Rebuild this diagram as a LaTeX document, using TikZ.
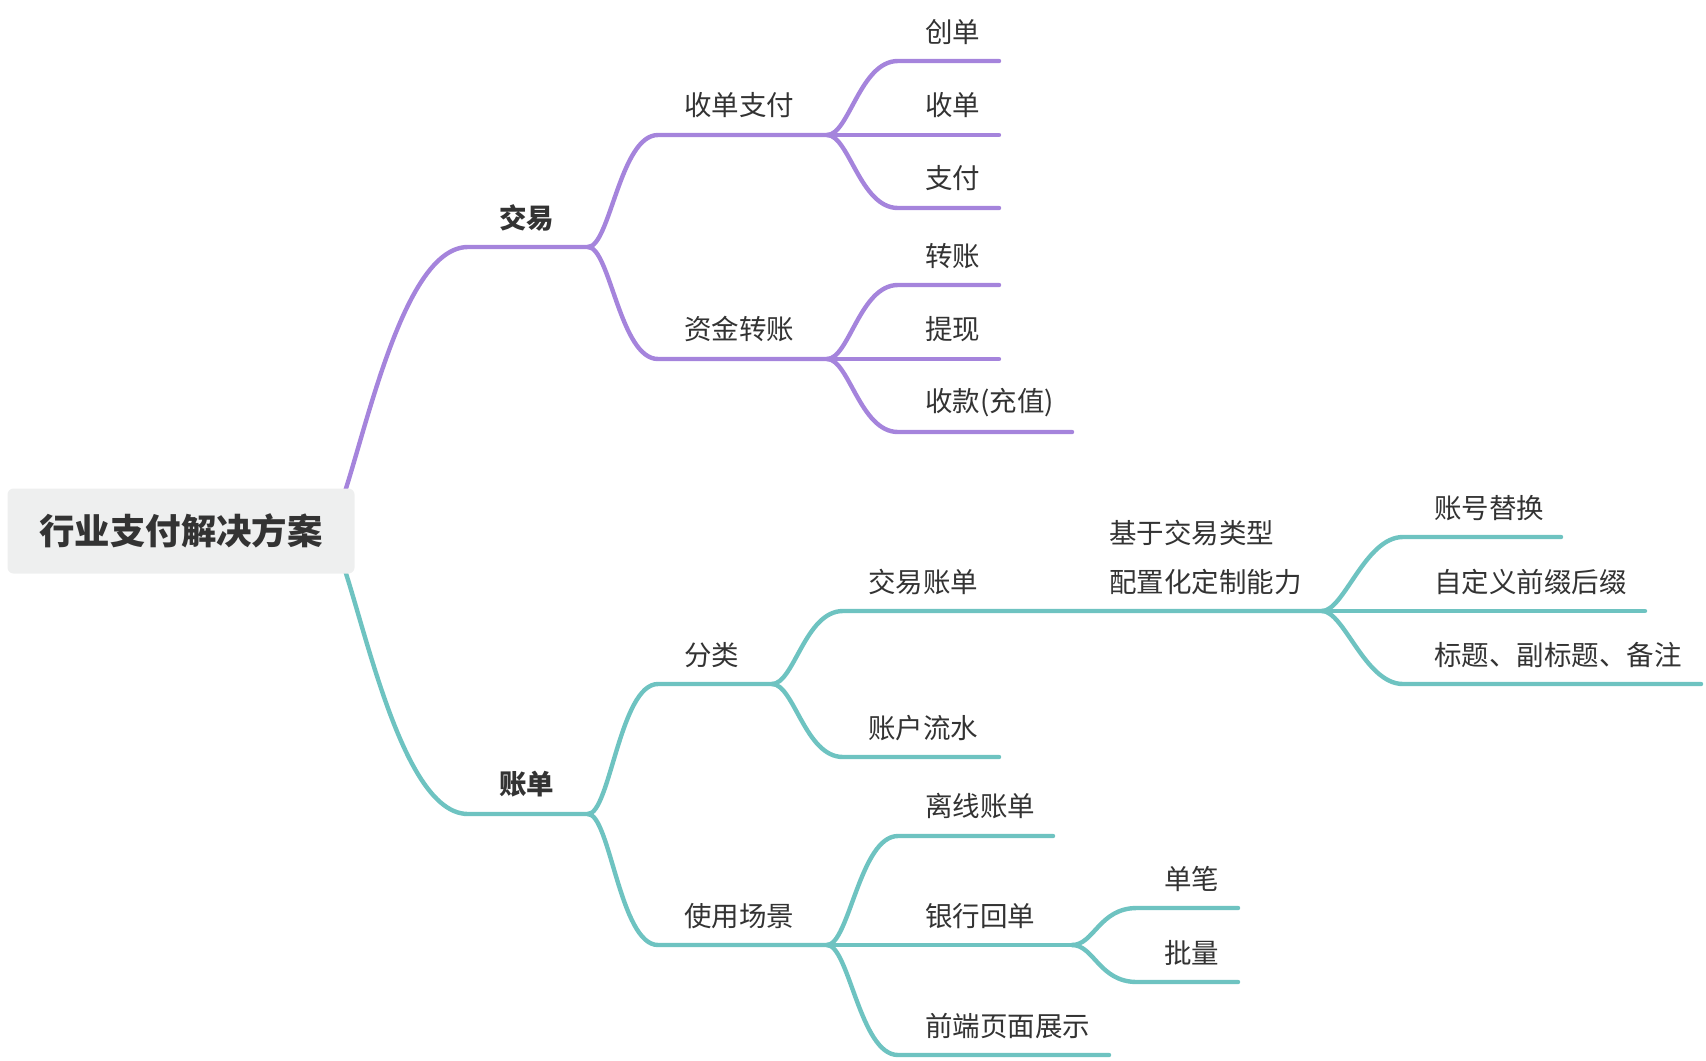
\documentclass[tikz,border=0pt]{standalone}
\usepackage{fontspec}
\setmainfont{Noto Sans CJK SC}
\usetikzlibrary{backgrounds}

\definecolor{purp}{RGB}{165,132,220}
\definecolor{tealb}{RGB}{110,195,193}
\definecolor{ink}{RGB}{51,51,51}
\definecolor{rootfill}{RGB}{238,239,239}

\begin{document}
\begin{tikzpicture}[
    x=0.5pt, y=-0.5pt,
    lbl/.style={anchor=west, inner sep=0pt, text=ink, font=\fontsize{13.75}{16}\selectfont},
    main/.style={lbl, font=\fontsize{13.75}{16}\selectfont\bfseries},
    rootbox/.style={rectangle, rounded corners=3pt, fill=rootfill, minimum width=173.5pt, minimum height=42.5pt, text=ink, font=\fontsize{17.7}{20}\selectfont\bfseries},
    pline/.style={draw=purp, line width=2.2pt, line cap=round, line join=round},
    tline/.style={draw=tealb, line width=2.2pt, line cap=round, line join=round},
    branch/.style={to path={.. controls +(22,0) and +(-38,0) .. (\tikztotarget)}}
  ]
    \useasboundingbox (0,0) rectangle (1706,1060);

    \node[rootbox] (root) at (181,531) {行业支付解决方案};

    % 交易
    \path (468,247) coordinate (trade-s) (588,247) coordinate (trade-e);
    \node[main] (trade) at (499,218) {交易};
    \path (658,135) coordinate (acq-s) (827,135) coordinate (acq-e);
    \node[lbl] (acq) at (684,105) {收单支付};
    \path (658,359) coordinate (fund-s) (827,359) coordinate (fund-e);
    \node[lbl] (fund) at (684,329) {资金转账};
    \path (898,61) coordinate (create-s) (999,61) coordinate (create-e);
    \node[lbl] (create) at (925,32) {创单};
    \path (898,135) coordinate (recv-s) (999,135) coordinate (recv-e);
    \node[lbl] (recv) at (925,105) {收单};
    \path (898,208) coordinate (pay-s) (999,208) coordinate (pay-e);
    \node[lbl] (pay) at (925,178) {支付};
    \path (898,285) coordinate (xfer-s) (999,285) coordinate (xfer-e);
    \node[lbl] (xfer) at (925,256) {转账};
    \path (898,359) coordinate (wd-s) (999,359) coordinate (wd-e);
    \node[lbl] (wd) at (925,329) {提现};
    \path (898,432) coordinate (topup-s) (1072,432) coordinate (topup-e);
    \node[lbl] (topup) at (925,403) {收款(充值)};

    % 账单
    \path (468,814) coordinate (bill-s) (588,814) coordinate (bill-e);
    \node[main] (bill) at (499,784) {账单};
    \path (658,684) coordinate (cls-s) (772,684) coordinate (cls-e);
    \node[lbl] (cls) at (684,655) {分类};
    \path (658,945) coordinate (use-s) (827,945) coordinate (use-e);
    \node[lbl] (use) at (684,916) {使用场景};
    \path (843,611) coordinate (tbill-s) (996,611) coordinate (tbill-e);
    \node[lbl] (tbill) at (868,582) {交易账单};
    \path (843,757) coordinate (flow-s) (999,757) coordinate (flow-e);
    \node[lbl] (flow) at (868,728) {账户流水};
    \path (1322,611) coordinate (cfg-e);
    \node[lbl, align=left, font=\fontsize{13.75}{24.5}\selectfont] (cfg) at (1109,557.5) {基于交易类型\\配置化定制能力};
    \path (1403,537) coordinate (acct-s) (1561,537) coordinate (acct-e);
    \node[lbl] (acct) at (1434,508) {账号替换};
    \path (1403,611) coordinate (fix-s) (1645,611) coordinate (fix-e);
    \node[lbl] (fix) at (1434,582) {自定义前缀后缀};
    \path (1403,684) coordinate (title-s) (1701,684) coordinate (title-e);
    \node[lbl] (title) at (1434,655) {标题、副标题、备注};
    \path (898,836) coordinate (off-s) (1053,836) coordinate (off-e);
    \node[lbl] (off) at (925,806) {离线账单};
    \path (898,945) coordinate (bank-s) (1072,945) coordinate (bank-e);
    \node[lbl] (bank) at (925,916) {银行回单};
    \path (898,1055) coordinate (web-s) (1109,1055) coordinate (web-e);
    \node[lbl] (web) at (925,1026) {前端页面展示};
    \path (1137,908) coordinate (single-s) (1238,908) coordinate (single-e);
    \node[lbl] (single) at (1164,879) {单笔};
    \path (1137,982) coordinate (batch-s) (1238,982) coordinate (batch-e);
    \node[lbl] (batch) at (1164,953) {批量};

    % connectors
    \begin{scope}[on background layer]
      \draw[pline] ([xshift=-15pt]root.east) .. controls +(25,0) and +(-80,0) .. (trade-s) -- (trade-e);
      \draw[tline] ([xshift=-15pt]root.east) .. controls +(25,0) and +(-80,0) .. (bill-s) -- (bill-e);
    \end{scope}
    \draw[pline] (trade-e) to[branch] (acq-s) -- (acq-e);
    \draw[pline] (trade-e) to[branch] (fund-s) -- (fund-e);
    \draw[pline] (acq-e) to[branch] (create-s) -- (create-e);
    \draw[pline] (acq-e) to[branch] (recv-s) -- (recv-e);
    \draw[pline] (acq-e) to[branch] (pay-s) -- (pay-e);
    \draw[pline] (fund-e) to[branch] (xfer-s) -- (xfer-e);
    \draw[pline] (fund-e) to[branch] (wd-s) -- (wd-e);
    \draw[pline] (fund-e) to[branch] (topup-s) -- (topup-e);
    \draw[tline] (bill-e) to[branch] (cls-s) -- (cls-e);
    \draw[tline] (bill-e) to[branch] (use-s) -- (use-e);
    \draw[tline] (cls-e) to[branch] (tbill-s) -- (tbill-e) -- (cfg-e);
    \draw[tline] (cls-e) to[branch] (flow-s) -- (flow-e);
    \draw[tline] (cfg-e) to[branch] (acct-s) -- (acct-e);
    \draw[tline] (cfg-e) to[branch] (fix-s) -- (fix-e);
    \draw[tline] (cfg-e) to[branch] (title-s) -- (title-e);
    \draw[tline] (use-e) to[branch] (off-s) -- (off-e);
    \draw[tline] (use-e) to[branch] (bank-s) -- (bank-e);
    \draw[tline] (use-e) to[branch] (web-s) -- (web-e);
    \draw[tline] (bank-e) to[branch] (single-s) -- (single-e);
    \draw[tline] (bank-e) to[branch] (batch-s) -- (batch-e);
  \end{tikzpicture}
\end{document}
